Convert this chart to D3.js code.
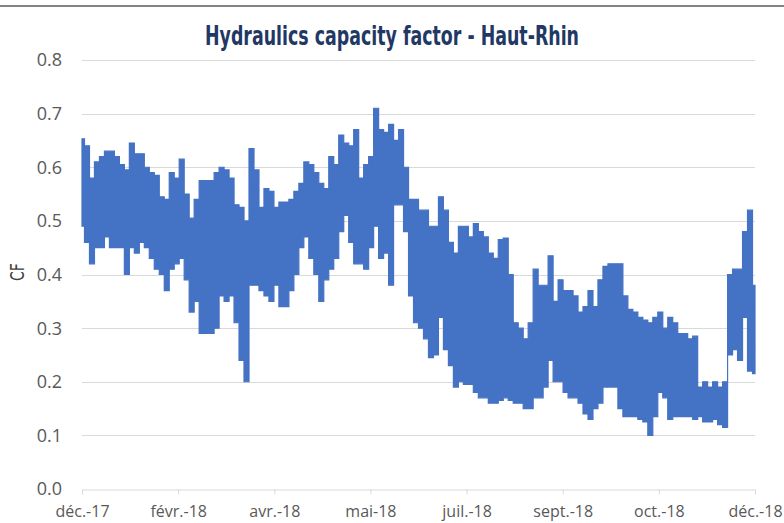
<!DOCTYPE html>
<html><head><meta charset="utf-8">
<script src="https://cdn.jsdelivr.net/npm/d3@7"></script>
<style>body{margin:0;background:#fff}svg{display:block}</style>
</head><body>
<svg id="c" width="784" height="523"></svg>
<script>
const chartTitle = "Hydraulics capacity factor - Haut-Rhin";
const yTitle = "CF";
const tickLabels = ["déc.-17","févr.-18","avr.-18","mai-18","juil.-18","sept.-18","oct.-18","déc.-18"];
const yTicks = [0,0.1,0.2,0.3,0.4,0.5,0.6,0.7,0.8];
const startDate = new Date(2017,11,18);
const tickStepDays = 52;

// upper envelope of the hourly series
const hi = [0.653,0.64,0.58,0.61,0.62,0.63,0.63,0.62,0.605,0.595,
0.645,0.625,0.625,0.60,0.59,0.585,0.545,0.54,0.59,0.58,
0.615,0.55,0.505,0.54,0.575,0.575,0.575,
0.59,0.60,0.595,0.58,0.53,0.525,0.50,0.635,0.595,0.525,
0.56,0.555,0.525,0.535,0.535,0.54,0.555,0.57,0.61,0.605,
0.59,0.57,0.56,0.62,0.605,0.66,0.645,
0.64,0.67,0.58,0.605,0.62,0.71,0.67,0.665,0.68,0.65,
0.67,0.60,0.54,0.54,0.52,0.52,0.49,0.49,0.545,0.52,
0.46,0.44,0.49,0.49,0.47,0.495,0.48,
0.47,0.44,0.43,0.465,0.468,0.40,0.31,0.30,0.28,0.31,
0.41,0.38,0.38,0.435,0.35,0.39,0.37,0.37,0.36,0.33,
0.34,0.37,0.34,0.39,0.415,0.42,0.42,
0.42,0.36,0.335,0.33,0.32,0.315,0.31,0.32,0.33,0.30,
0.32,0.31,0.29,0.29,0.28,0.285,0.19,0.20,0.19,0.20,
0.19,0.20,0.40,0.41,0.41,0.48,0.52,0.38];
// lower envelope
const lo = [0.49,0.46,0.42,0.45,0.45,0.47,0.45,0.45,0.45,0.40,
0.45,0.44,0.46,0.45,0.43,0.41,0.40,0.37,0.41,0.42,
0.43,0.39,0.33,0.35,0.29,0.29,0.29,
0.30,0.36,0.35,0.36,0.31,0.24,0.20,0.38,0.38,0.37,
0.36,0.35,0.38,0.34,0.34,0.37,0.40,0.45,0.47,0.43,
0.40,0.35,0.39,0.41,0.43,0.48,0.51,
0.46,0.42,0.42,0.41,0.45,0.49,0.43,0.44,0.38,0.53,
0.53,0.48,0.36,0.31,0.30,0.28,0.245,0.25,0.32,0.26,
0.23,0.19,0.20,0.195,0.195,0.18,0.17,
0.17,0.16,0.16,0.165,0.17,0.165,0.16,0.16,0.15,0.15,
0.17,0.17,0.19,0.24,0.20,0.20,0.18,0.17,0.17,0.16,
0.14,0.13,0.15,0.16,0.19,0.19,0.19,
0.15,0.135,0.135,0.135,0.13,0.125,0.10,0.135,0.18,0.17,
0.13,0.135,0.135,0.135,0.135,0.13,0.135,0.125,0.125,0.13,
0.12,0.115,0.25,0.26,0.24,0.32,0.22,0.215];

const svg = d3.select("#c");
const W = 784, H = 523;
const plot = {left: 82, right: 755, top: 60, bottom: 489};

const endDate = d3.timeDay.offset(startDate, tickStepDays * (tickLabels.length - 1));
const tickDates = tickLabels.map((_, i) => d3.timeDay.offset(startDate, tickStepDays * i));
const x = d3.scaleTime().domain([startDate, endDate]).range([plot.left, plot.right]);
const y = d3.scaleLinear().domain([0, 0.8]).range([plot.bottom, plot.top]);

const n = hi.length;
const series = hi.map((h, i) => ({
  t: new Date(+startDate + i * (endDate - startDate) / (n - 1)),
  hi: h, lo: lo[i]
}));

// frame top line
svg.append("line").attr("x1", 0).attr("x2", W).attr("y1", 6).attr("y2", 6)
  .attr("stroke", "#5a5a5a").attr("stroke-width", 1.5);

// gridlines
svg.append("g").selectAll("line").data(yTicks.filter(d => d > 0)).join("line")
  .attr("x1", plot.left).attr("x2", plot.right)
  .attr("y1", d => Math.round(y(d)) + 0.5).attr("y2", d => Math.round(y(d)) + 0.5)
  .attr("stroke", "#d9d9d9").attr("stroke-width", 1);

// y labels
svg.append("g").selectAll("text").data(yTicks).join("text")
  .attr("x", 62).attr("y", d => y(d)).attr("dy", "0.36em")
  .attr("text-anchor", "end")
  .attr("font-family", "'Open Sans', 'Liberation Sans', sans-serif")
  .attr("font-size", 18).attr("fill", "#595959")
  .text(d => d3.format(".1f")(d));

// x axis
const xAxis = d3.axisBottom(x).tickValues(tickDates).tickSize(5).tickSizeOuter(0)
  .tickPadding(11).tickFormat((d, i) => tickLabels[i]);
const gx = svg.append("g").attr("transform", `translate(0,${Math.round(plot.bottom) + 0.5})`).call(xAxis);
gx.select(".domain").attr("stroke", "#d9d9d9");
gx.selectAll(".tick line").attr("stroke", "#d9d9d9");
gx.selectAll(".tick text").attr("font-family", "'Open Sans', 'Liberation Sans', sans-serif")
  .attr("font-size", 16).attr("fill", "#595959");

// series band
const area = d3.area().curve(d3.curveStep)
  .x(d => x(d.t)).y0(d => y(d.lo)).y1(d => y(d.hi));
svg.append("path").datum(series).attr("d", area)
  .attr("fill", "#4472c4").attr("stroke", "#4472c4").attr("stroke-width", 1.2)
  .attr("stroke-linejoin", "miter");

// title
svg.append("text").attr("x", 392).attr("y", 45).attr("text-anchor", "middle")
  .attr("font-family", "'DejaVu Sans', sans-serif").attr("font-weight", "bold")
  .attr("font-size", 26).attr("fill", "#1f3864")
  .attr("textLength", 374).attr("lengthAdjust", "spacingAndGlyphs")
  .text(chartTitle);

// y title
svg.append("text").attr("transform", "translate(24,272) rotate(-90)")
  .attr("text-anchor", "middle")
  .attr("font-family", "'DejaVu Sans', sans-serif")
  .attr("font-size", 19).attr("fill", "#404040")
  .attr("textLength", 18).attr("lengthAdjust", "spacingAndGlyphs")
  .text(yTitle);
</script>
</body></html>
